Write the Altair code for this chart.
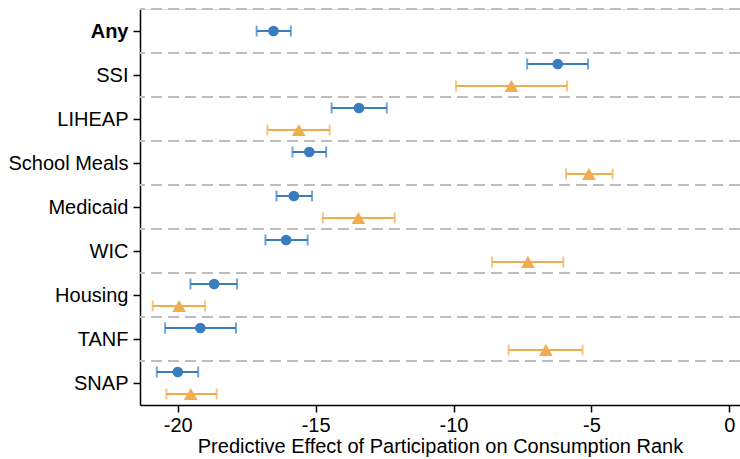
import altair as alt
import pandas as pd

categories = ["Any", "SSI", "LIHEAP", "School Meals", "Medicaid", "WIC", "Housing", "TANF", "SNAP"]

blue_est = [-16.53, -6.22, -13.43, -15.23, -15.79, -16.07, -18.68, -19.18, -20.00]
blue_lo = [-17.14, -7.33, -14.42, -15.84, -16.42, -16.82, -19.54, -20.46, -20.76]
blue_hi = [-15.90, -5.12, -12.42, -14.62, -15.13, -15.29, -17.85, -17.89, -19.26]

orange_est = [None, -7.90, -15.61, -5.09, -13.45, -7.30, -19.95, -6.65, -19.53]
orange_lo = [None, -9.91, -16.75, -5.92, -14.74, -8.60, -20.91, -8.00, -20.41]
orange_hi = [None, -5.88, -14.49, -4.23, -12.13, -6.02, -19.01, -5.32, -18.59]

x_ticks = [-20, -15, -10, -5, 0]

BLUE = "#3a7dbf"
ORANGE = "#f0ad4e"
FONT = "Liberation Sans"

rows = []
for i, c in enumerate(categories):
    has_orange = orange_est[i] is not None
    off = 0.25 if has_orange else 0.0
    rows.append(dict(cat=c, idx=i, series="blue", pos=i - off,
                     est=blue_est[i], lo=blue_lo[i], hi=blue_hi[i]))
    if has_orange:
        rows.append(dict(cat=c, idx=i, series="orange", pos=i + off,
                         est=orange_est[i], lo=orange_lo[i], hi=orange_hi[i]))
df = pd.DataFrame(rows)

sep = pd.DataFrame({"b": [i - 0.5 for i in range(len(categories))]})

labels_js = "[" + ",".join("'" + c + "'" for c in categories) + "]"

xscale = alt.Scale(domain=[-21.37, 0.39], nice=False, zero=False)
yscale = alt.Scale(domain=[-0.5, len(categories) - 0.5], reverse=True, nice=False, zero=False)

xaxis = alt.Axis(values=x_ticks, labelExpr="toString(datum.value)",
                 title="Predictive Effect of Participation on Consumption Rank",
                 grid=False, domainColor="black", domainWidth=1.5, tickColor="black",
                 tickWidth=1.5, tickSize=7, labelFont=FONT, labelFontSize=20,
                 labelColor="black", titleFont=FONT, titleFontSize=20,
                 titleFontWeight="normal", titleColor="black", labelPadding=3, titlePadding=1)
yaxis = alt.Axis(values=list(range(len(categories))), labelExpr=labels_js + "[datum.value]",
                 title=None, grid=False, domainColor="black", domainWidth=1.5,
                 tickColor="black", tickWidth=1.5, tickSize=7, labelFont=FONT,
                 labelFontSize=20, labelColor="black", labelPadding=5,
                 labelFontWeight={"condition": {"test": "datum.value === 0", "value": "bold"},
                                  "value": "normal"})

color_scale = alt.Scale(domain=["blue", "orange"], range=[BLUE, ORANGE])

base = alt.Chart(df)

seps = alt.Chart(sep).mark_rule(color="#bdbdbd", strokeWidth=2, strokeDash=[11, 6]).encode(
    y=alt.Y("b:Q", scale=yscale, axis=yaxis)
)

bars = base.mark_rule(strokeWidth=2).encode(
    x=alt.X("lo:Q", scale=xscale, axis=xaxis),
    x2="hi:Q",
    y=alt.Y("pos:Q", scale=yscale, axis=yaxis),
    color=alt.Color("series:N", scale=color_scale, legend=None),
)

cap_lo = base.mark_tick(orient="vertical", thickness=2, size=11).encode(
    x=alt.X("lo:Q", scale=xscale),
    y=alt.Y("pos:Q", scale=yscale),
    color=alt.Color("series:N", scale=color_scale, legend=None),
)
cap_hi = base.mark_tick(orient="vertical", thickness=2, size=11).encode(
    x=alt.X("hi:Q", scale=xscale),
    y=alt.Y("pos:Q", scale=yscale),
    color=alt.Color("series:N", scale=color_scale, legend=None),
)

pts = base.mark_point(filled=True, opacity=1).encode(
    x=alt.X("est:Q", scale=xscale),
    y=alt.Y("pos:Q", scale=yscale),
    color=alt.Color("series:N", scale=color_scale, legend=None),
    shape=alt.Shape("series:N", scale=alt.Scale(domain=["blue", "orange"],
                                                range=["circle", "triangle-up"]), legend=None),
    size=alt.Size("series:N", scale=alt.Scale(domain=["blue", "orange"], range=[115, 190]),
                  legend=None),
)

chart = alt.layer(seps, bars, cap_lo, cap_hi, pts).properties(
    width=600, height=396,
    autosize=alt.AutoSizeParams(type="none"),
    padding={"left": 140, "top": 9, "right": 0, "bottom": 54},
).configure_view(stroke=None).configure(background="white")

chart.save("out.html", embed_options={"renderer": "svg", "actions": False})
